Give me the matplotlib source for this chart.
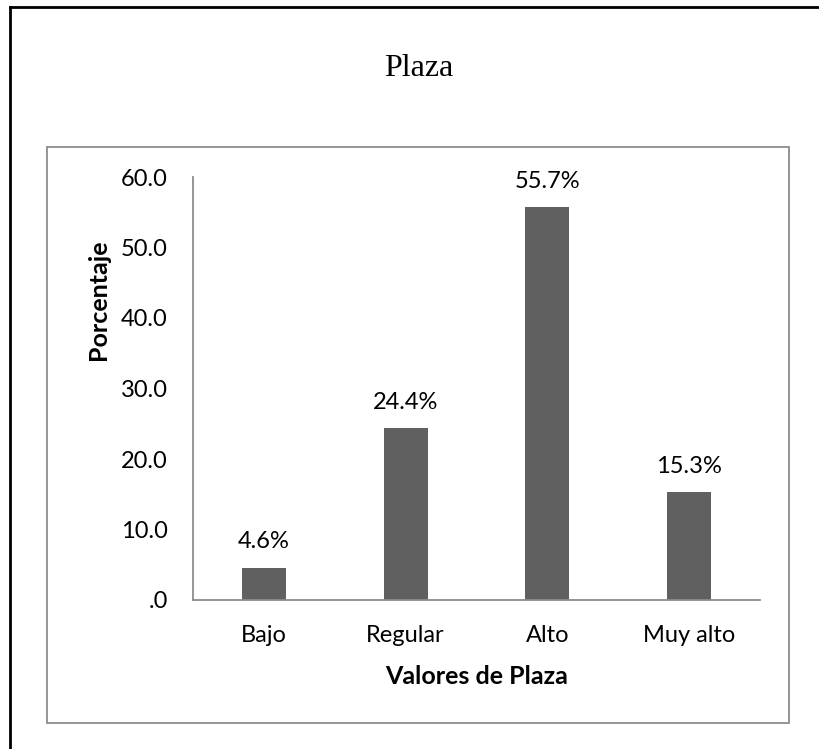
import matplotlib
matplotlib.use("Agg")
import matplotlib.pyplot as plt
from matplotlib.lines import Line2D
from matplotlib.patches import Rectangle
from matplotlib.ticker import FuncFormatter

categorias = ["Bajo", "Regular", "Alto", "Muy alto"]
porcentajes = [4.6, 24.4, 55.7, 15.3]
titulo = "Plaza"
eje_x = "Valores de Plaza"
eje_y = "Porcentaje"

gris_barra = "#606060"
gris_eje = "#8c8c8c"
fuente = ["Lato", "DejaVu Sans"]

W, H = 820, 749
fig = plt.figure(figsize=(W / 100, H / 100), dpi=100)


def px(x, y):
    # pixel coords (top-left origin) -> figure fraction
    return x / W, 1 - y / H


# marco exterior negro (solo arriba e izquierda quedan dentro de la figura)
x0, y0 = px(10.5, 7.3)
fig.add_artist(Line2D([x0, x0], [y0, -0.1], color="black", lw=2.0,
                      transform=fig.transFigure, solid_capstyle="projecting"))
fig.add_artist(Line2D([x0, 1.1], [y0, y0], color="black", lw=2.0,
                      transform=fig.transFigure, solid_capstyle="projecting"))

# recuadro gris del área del gráfico
bx0, by1 = px(47, 147)
bx1, by0 = px(789, 723)
fig.add_artist(Rectangle((bx0, by0), bx1 - bx0, by1 - by0, fill=False,
                         edgecolor=gris_eje, lw=1.3, transform=fig.transFigure))

# título
tx, ty = px(419, 76)
fig.text(tx, ty, titulo, ha="center", va="baseline", fontsize=23,
         family="Liberation Serif", color="black")

# ejes
ax_l, ax_t = px(193, 177)
ax_r, ax_b = px(760, 600)
ax = fig.add_axes([ax_l, ax_b, ax_r - ax_l, ax_t - ax_b])

pos = range(len(categorias))
ax.bar(pos, porcentajes, width=0.31, color=gris_barra)

for i, v in zip(pos, porcentajes):
    ax.annotate(f"{v:.1f}%", (i, v), xytext=(0, 14), textcoords="offset points",
                ha="center", va="baseline", fontsize=17, family=fuente,
                color="black")

ax.set_xlim(-0.5, len(categorias) - 0.5)
ax.set_ylim(0, 60)
ax.set_yticks(range(0, 61, 10))
ax.yaxis.set_major_formatter(FuncFormatter(lambda v, _: f"{v:.1f}".lstrip("0")))
ax.set_xticks(list(pos))
ax.set_xticklabels(categorias)

for s in ("top", "right"):
    ax.spines[s].set_visible(False)
for s in ("left", "bottom"):
    ax.spines[s].set_color(gris_eje)
    ax.spines[s].set_linewidth(1.3)

ax.tick_params(axis="both", length=0, labelsize=17, colors="black")
ax.tick_params(axis="y", pad=18)
ax.tick_params(axis="x", pad=18)
for lab in ax.get_xticklabels() + ax.get_yticklabels():
    lab.set_family(fuente)

ax.set_xlabel(eje_x, fontsize=18, fontweight="bold", family=fuente, labelpad=14)
ax.set_ylabel(eje_y, fontsize=18, fontweight="bold", family=fuente)
ax.yaxis.set_label_coords(-0.147, 0.71)

fig.savefig("out.png", dpi=100, facecolor="white")
